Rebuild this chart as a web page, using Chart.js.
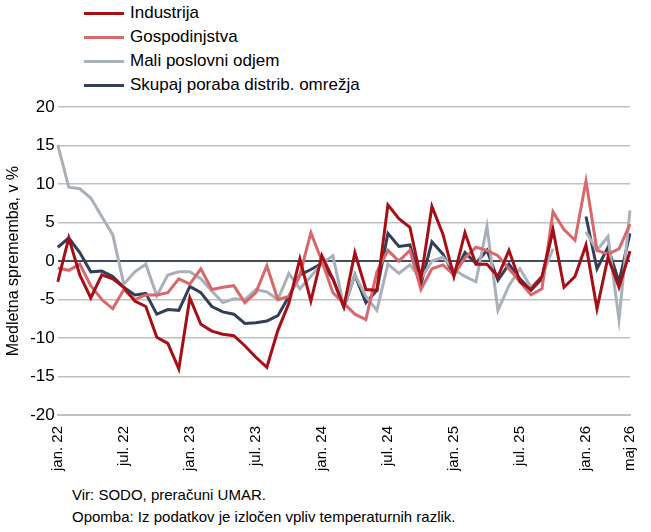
<!DOCTYPE html>
<html><head><meta charset="utf-8">
<script src="https://cdn.jsdelivr.net/npm/chart.js@4"></script>
<style>
body{margin:0;background:#fff;font-family:"Liberation Sans",Arial,sans-serif;}
#wrap{position:relative;width:651px;height:532px;}
.leg{position:absolute;left:84px;font-size:17px;color:#000;}
.leg span{display:inline-block;width:40px;height:3px;vertical-align:middle;margin-right:6px;}
.note{position:absolute;left:72px;font-size:15px;color:#000;}
</style></head><body>
<div id="wrap">
<div class="leg" style="top:3px"><span style="background:#a50f15"></span>Industrija</div>
<div class="leg" style="top:27px"><span style="background:#d9686c"></span>Gospodinjstva</div>
<div class="leg" style="top:51px"><span style="background:#a9b0b7"></span>Mali poslovni odjem</div>
<div class="leg" style="top:75px"><span style="background:#333e5a"></span>Skupaj poraba distrib. omrežja</div>
<div style="position:absolute;left:0;top:94px;width:651px;height:380px"><canvas id="c"></canvas></div>
<div class="note" style="top:486px">Vir: SODO, preračuni UMAR.</div>
<div class="note" style="top:508px">Opomba: Iz podatkov je izločen vpliv temperaturnih razlik.</div>
</div>
<script>
const months = ["jan.","feb.","mar.","apr.","maj","jun.","jul.","avg.","sep.","okt.","nov.","dec."];
const labels = [];
for (let y = 22; y <= 26; y++) for (let m = 0; m < 12; m++) if (!(y === 26 && m > 4)) labels.push(months[m] + " " + y);

const industrija = [-2.7,3,-1.8,-4.8,-1.8,-2.3,-3.4,-5.2,-5.9,-9.9,-10.7,-14,-4.8,-8.2,-9.1,-9.5,-9.7,-11,-12.5,-13.8,-9,-5.5,0.3,-5.2,0.7,-2.3,-5.9,1.1,-3.7,-3.8,7.3,5.5,4.4,-2.3,7.1,3.5,-2,3.7,-0.4,-0.4,-2,1.4,-2.7,-3.7,-2,4.1,-3.4,-2,2.1,-6.2,0.5,-3.4,1.3];
const gospodinjstva = [-0.9,-1.2,-0.4,-3.2,-5,-6.2,-3.7,-5,-4.4,-4.4,-4.1,-2.3,-3,-1,-3.7,-3.4,-3.2,-5.4,-4.1,-0.6,-5,-4.6,-1.8,3.7,0,-4.1,-5.5,-6.9,-7.6,-1.4,1.4,0,1.4,-3.7,-1,-0.5,-1.8,0.4,1.8,1.4,0.7,-1,-2.7,-4.4,-3.6,6.4,4.1,2.7,10.4,1.4,0.9,1.6,4.8];
const mali = [15.1,9.6,9.4,8.2,5.8,3.4,-3,-1.4,-0.4,-4.5,-1.8,-1.4,-1.4,-2.3,-3.9,-5.4,-4.9,-5,-3.7,-4,-5,-1.6,-3.6,-2,-0.3,0.7,-5.9,-1.8,-4.6,-6.4,-0.4,-1.6,-0.5,-2.3,0,0.5,-1.1,-2,-2.7,4.5,-6.4,-3.2,-1,-3.4,-2,1.6,null,null,3.8,1.4,3.2,-7.6,6.6];
const skupaj = [1.8,3,1.1,-1.4,-1.3,-2,-3.4,-4.4,-4.2,-6.9,-6.3,-6.4,-3.3,-4.1,-5.9,-6.6,-6.9,-8.1,-8,-7.8,-7.1,-4.6,-1.8,-1.1,-0.3,-2.3,-6,-1.8,-5.4,-3.8,3.6,1.9,2.1,-3,2.5,0.9,-1.8,1.1,-0.3,1.4,-2.5,-0.4,-2.3,-3.8,-2.3,4.1,null,null,5.8,-1,1.8,-2.7,3.6];

const ds = (d, c) => ({data: d, borderColor: c, borderWidth: 3, pointRadius: 0, tension: 0, spanGaps: false});
new Chart(document.getElementById("c"), {
  type: "line",
  data: {labels, datasets: [ds(industrija,"#a50f15"), ds(gospodinjstva,"#d9686c"), ds(mali,"#a9b0b7"), ds(skupaj,"#333e5a")]},
  options: {
    animation: false, responsive: true, maintainAspectRatio: false,
    layout: {padding: {right: 12, top: 4}},
    plugins: {legend: {display: false}, tooltip: {enabled: false}},
    scales: {
      x: {grid: {display: false}, border: {color: "#bfbfbf", width: 2},
          ticks: {autoSkip: false, maxRotation: 90, minRotation: 90, color: "#000", font: {size: 15, family: "Liberation Sans"},
                  callback: (v, i) => (i % 6 === 0 || i === labels.length - 1) ? labels[i] : ""}},
      y: {min: -20, max: 20, ticks: {stepSize: 5, color: "#000", font: {size: 17, family: "Liberation Sans"}},
          border: {display: false},
          grid: {color: c => c.tick.value === 0 ? "#444b5a" : "#c0c0c0", lineWidth: c => c.tick.value === 0 ? 2 : 1.5, drawTicks: false},
          title: {display: true, text: "Medletna sprememba, v %", color: "#000", font: {size: 16, family: "Liberation Sans"}}}
    }
  }
});
</script>
</body></html>
